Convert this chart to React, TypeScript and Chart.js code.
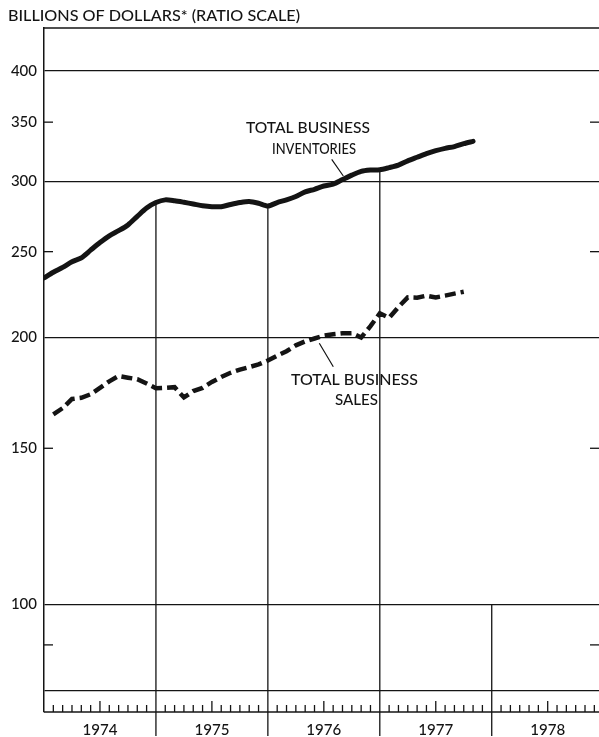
import React, { useEffect, useRef } from "react";
import { Chart, registerables } from "chart.js";

Chart.register(...registerables);

// Months counted from the start of January 1974
const inventoryStartMonth = 0;
const inventoryValues = [
  233.5, 237, 240, 243.5, 246, 251, 256, 260.5, 264, 268,
  274, 280, 284, 286, 285.3, 284.2, 283, 281.7, 281, 281,
  282.6, 284, 284.8, 283.5, 281.5, 284, 286, 288.5, 292, 294,
  296.5, 298, 301.5, 305, 308, 309, 309.3, 311, 313, 316.5,
  319.5, 322.5, 325, 327, 328.5, 331, 333,
];
const salesStartMonth = 1;
const salesValues = [
  163.8, 166.5, 170.5, 171, 172.6, 175.5, 178.5, 181, 180.2, 179.5,
  177.5, 175.3, 175.5, 175.8, 171.2, 174, 175.5, 178.2, 180.5, 182.5,
  184, 185.2, 186.5, 188.4, 190.8, 193, 196, 198, 199.5, 201,
  201.7, 202.2, 202.3, 200, 206, 213, 210.5, 216.5, 222, 221.8,
  223, 222, 223, 224.2, 225.3,
];

const yearLabels = ["1974", "1975", "1976", "1977", "1978"];
const yTickValues = [80, 90, 100, 150, 200, 250, 300, 350, 400];
const yLabeledTicks = [100, 150, 200, 250, 300, 350, 400];
const yMajorGrid = [80, 100, 200, 300, 400];
const yMinorTicks = [90, 150, 250, 350];
const yMin = 75.6;
const yMax = 447;
const xMin = 0;
const xMax = 59.5;

const titleText = "BILLIONS OF DOLLARS* (RATIO SCALE)";
const invLabel = ["TOTAL BUSINESS", "INVENTORIES"];
const salesLabel = ["TOTAL BUSINESS", "SALES"];

const INK = "#141414";
const FONT = "Lato";
const WEIGHT = "500";

function fitText(ctx: CanvasRenderingContext2D, text: string, left: number, baseline: number, width: number, size: number) {
  ctx.save();
  ctx.font = `${WEIGHT} ${size}px ${FONT}`;
  ctx.textAlign = "left";
  ctx.textBaseline = "alphabetic";
  const w = ctx.measureText(text).width;
  ctx.translate(left, baseline);
  ctx.scale(width / w, 1);
  ctx.fillText(text, 0, 0);
  ctx.restore();
}

function inventoryAt(m: number): number | null {
  const i = m - inventoryStartMonth;
  if (i < 0 || i > inventoryValues.length - 1) return null;
  const i0 = Math.floor(i);
  const i1 = Math.min(i0 + 1, inventoryValues.length - 1);
  const f = i - i0;
  return inventoryValues[i0] * (1 - f) + inventoryValues[i1] * f;
}

const decorPlugin = {
  id: "decor",
  beforeDatasetsDraw(chart: any) {
    const { ctx, chartArea: a, scales } = chart;
    const x = scales.x;
    const y = scales.y;
    ctx.save();
    ctx.strokeStyle = INK;
    ctx.lineWidth = 1.3;
    const seg = (x1: number, y1: number, x2: number, y2: number) => {
      ctx.beginPath();
      ctx.moveTo(x1, y1);
      ctx.lineTo(x2, y2);
      ctx.stroke();
    };
    // top frame and baseline
    seg(a.left, a.top, a.right, a.top);
    seg(a.left, a.bottom, a.right, a.bottom);
    // minor ratio ticks on both sides
    yMinorTicks.forEach((v) => {
      const py = y.getPixelForValue(v);
      seg(a.left, py, a.left + 9, py);
      seg(a.right - 9, py, a.right, py);
    });
    // month ticks
    for (let yr = 0; yr < yearLabels.length; yr++) {
      for (let k = 1; k <= 11; k++) {
        const px = x.getPixelForValue(yr * 12 + k);
        if (px > a.right) continue;
        const len = k === 6 ? 11 : 7;
        seg(px, a.bottom, px, a.bottom - len);
      }
    }
    // year dividers
    for (let yr = 1; yr < yearLabels.length; yr++) {
      const m = yr * 12;
      const px = x.getPixelForValue(m);
      const v = inventoryAt(m);
      const topY = y.getPixelForValue(v === null ? 100 : v);
      seg(px, topY, px, chart.height - 1);
    }
    ctx.restore();
  },
  afterDraw(chart: any) {
    const { ctx, scales } = chart;
    const x = scales.x;
    ctx.save();
    ctx.fillStyle = INK;
    ctx.strokeStyle = INK;
    fitText(ctx, titleText, 8, 20.5, 292, 15);
    fitText(ctx, invLabel[0], 246, 133, 124, 16);
    fitText(ctx, invLabel[1], 272, 154, 84, 16);
    fitText(ctx, salesLabel[0], 291, 385, 127, 16);
    fitText(ctx, salesLabel[1], 335, 405, 43, 16);
    // leader lines
    ctx.lineWidth = 1.2;
    ctx.beginPath();
    ctx.moveTo(331.7, 159.3);
    ctx.lineTo(343.3, 176);
    ctx.moveTo(333.3, 366.7);
    ctx.lineTo(319.3, 343.3);
    ctx.stroke();
    // year labels
    yearLabels.forEach((lab, i) => {
      const cx = x.getPixelForValue(i * 12 + 6);
      const w = 35;
      fitText(ctx, lab, cx - w / 2, 735, w, 15);
    });
    ctx.restore();
  },
};

export default function App() {
  const ref = useRef<HTMLCanvasElement>(null);

  useEffect(() => {
    if (!ref.current) return;
    const chart = new Chart(ref.current, {
      type: "line",
      data: {
        datasets: [
          {
            label: "Total business inventories",
            data: inventoryValues.map((v, i) => ({ x: inventoryStartMonth + i, y: v })),
            borderColor: INK,
            borderWidth: 5,
            pointRadius: 0,
            tension: 0.25,
            borderCapStyle: "round",
            borderJoinStyle: "round",
          },
          {
            label: "Total business sales",
            data: salesValues.map((v, i) => ({ x: salesStartMonth + i, y: v })),
            borderColor: INK,
            borderWidth: 4.5,
            borderDash: [11, 5],
            pointRadius: 0,
            tension: 0,
            borderCapStyle: "butt",
          },
        ],
      },
      options: {
        responsive: false,
        animation: false,
        events: [],
        layout: { padding: { top: 28, bottom: 25, left: 0, right: 0 } },
        plugins: { legend: { display: false }, tooltip: { enabled: false }, title: { display: false } },
        scales: {
          x: { type: "linear", min: xMin, max: xMax, display: false },
          y: {
            type: "logarithmic",
            min: yMin,
            max: yMax,
            afterFit: (s: any) => {
              s.width = 44;
            },
            afterBuildTicks: (s: any) => {
              s.ticks = yTickValues.map((v) => ({ value: v }));
            },
            ticks: {
              autoSkip: false,
              padding: 7,
              color: INK,
              font: { family: FONT, size: 15, weight: WEIGHT },
              callback: (v: any) => (yLabeledTicks.includes(Number(v)) ? String(v) : ""),
            },
            grid: {
              drawTicks: false,
              lineWidth: 1.3,
              color: (c: any) => (c.tick && yMajorGrid.includes(c.tick.value) ? INK : "rgba(0,0,0,0)"),
            },
            border: { display: true, color: INK, width: 1.5 },
          },
        },
      },
      plugins: [decorPlugin],
    });
    return () => chart.destroy();
  }, []);

  return (
    <div style={{ position: "absolute", left: 0, top: 0, width: 599, height: 737, background: "#fff" }}>
      <canvas ref={ref} width={599} height={737} style={{ width: 599, height: 737, display: "block" }} />
    </div>
  );
}
